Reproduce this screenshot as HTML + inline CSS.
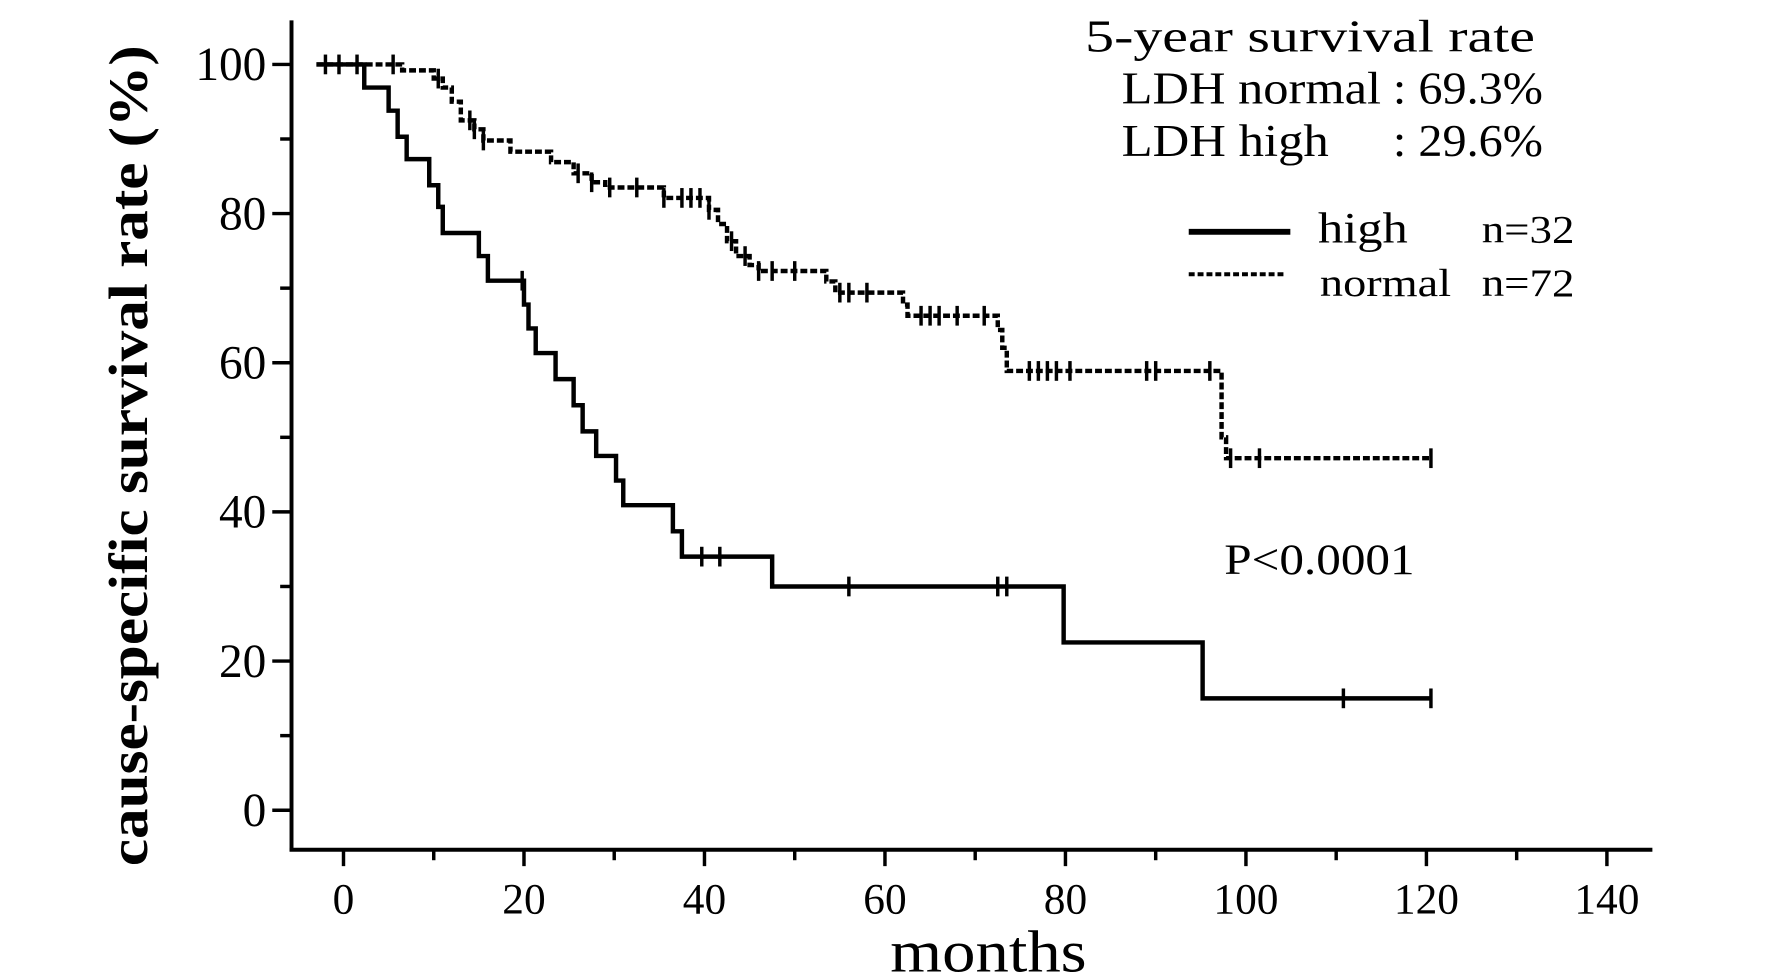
<!DOCTYPE html>
<html><head><meta charset="utf-8"><style>
html,body{margin:0;padding:0;background:#fff;}
svg{display:block;font-family:"Liberation Serif",serif;}
</style></head><body>
<svg id="chart" width="1772" height="975" viewBox="0 0 1772 975" xmlns="http://www.w3.org/2000/svg">
<g transform="scale(0.9865)">
<g id="axes"></g>
<g id="series"></g>
<text transform="translate(149,462) rotate(-90)" text-anchor="middle" font-size="56" font-weight="bold" textLength="832" lengthAdjust="spacingAndGlyphs">cause-specific survival rate (%)</text>
<text x="1002" y="985" text-anchor="middle" font-size="60" textLength="199" lengthAdjust="spacingAndGlyphs">months</text>
<g font-size="46">
<text x="1100" y="52" textLength="456" lengthAdjust="spacingAndGlyphs">5-year survival rate</text>
<text x="1137" y="105" textLength="263" lengthAdjust="spacingAndGlyphs">LDH normal</text>
<text x="1412" y="105" textLength="152" lengthAdjust="spacingAndGlyphs">: 69.3%</text>
<text x="1137" y="158" textLength="210" lengthAdjust="spacingAndGlyphs">LDH high</text>
<text x="1412" y="158" textLength="152" lengthAdjust="spacingAndGlyphs">: 29.6%</text>
</g>
<g font-size="44">
<line x1="1205" y1="235" x2="1308" y2="235" stroke="#000" stroke-width="6"/>
<line x1="1205" y1="278" x2="1304" y2="278" stroke="#000" stroke-width="4" stroke-dasharray="6 3"/>
<text x="1336" y="246" textLength="91" lengthAdjust="spacingAndGlyphs">high</text>
<text x="1502" y="246" font-size="40" textLength="94" lengthAdjust="spacingAndGlyphs">n=32</text>
<text x="1338" y="300" font-size="40" textLength="133" lengthAdjust="spacingAndGlyphs">normal</text>
<text x="1502" y="300" font-size="40" textLength="94" lengthAdjust="spacingAndGlyphs">n=72</text>
</g>
<text x="1241" y="582" font-size="44" textLength="193" lengthAdjust="spacingAndGlyphs">P&lt;0.0001</text>
</g>
</svg>
<script>
const xTicks=[0,20,40,60,80,100,120,140];
const yTicks=[0,20,40,60,80,100];
// high group: step times and survival after step
const highTimes=[-3,2.3,5,6,7,9.5,10.5,11,15,16,20,20.5,21.3,23.5,25.5,26.5,28,30.2,31,36.5,37.5,47.5,79.8,95.2,120.5];
const highSurv=[100,96.9,93.8,90.3,87.3,83.8,80.9,77.4,74.3,71.0,67.8,64.6,61.3,57.8,54.3,50.8,47.5,44.2,40.9,37.4,34.0,30.0,22.5,15.0,15.0];
const highCensor=[19.8,39.7,41.7,56,72.5,73.5,110.8,120.5];
// normal group
const normTimes=[-3,6.5,10,11,12,13,14.5,15.5,18.5,23,25.5,27.5,29,35.5,40.5,41.5,42.5,43.5,45,46,53.5,54.5,62,62.5,72.5,73,73.5,97.3,97.8,120.5];
const normSurv=[100,99.2,98.1,96.9,95.0,92.5,91.3,89.8,88.3,86.9,85.4,84.2,83.5,82.1,80.5,78.6,76.3,74.3,73.1,72.3,70.9,69.4,67.8,66.3,64.4,62.0,58.9,50.0,47.2,47.2];
const normCensor=[-2,-0.5,1.5,5.5,10.5,14,14.5,15.5,26,27.5,29.5,32.5,35.5,37.5,38.5,39.5,40.5,43,44.5,46,47.5,50,55,56,58,64,65,66,68,71,76,77,78,79,80.5,89,90,96,98.3,101.5,120.5];

const X0=348.2, XS=(1628.9-348.2)/140;
const Y0=821.3, YS=(821.3-65.3)/100;
const sx=v=>X0+v*XS, sy=v=>Y0-v*YS;
const NS="http://www.w3.org/2000/svg";
function mk(tag,attrs,parent){const e=document.createElementNS(NS,tag);for(const k in attrs)e.setAttribute(k,attrs[k]);parent.appendChild(e);return e;}
const axes=document.getElementById('axes');
const series=document.getElementById('series');

let yAxis=mk('line',{x1:295.5,y1:20.6,x2:295.5,y2:863,stroke:'#000','stroke-width':4},axes);


let xAxis=mk('line',{x1:293.5,y1:861.4,x2:1675,y2:861.4,stroke:'#000','stroke-width':4},axes);


for(let v=0;v<=100;v+=10){
  const major=v%20===0;
  let t=mk('line',{x1:major?276:284,y1:sy(v),x2:295.5,y2:sy(v),stroke:'#000','stroke-width':3.5},axes);
  
  
}
yTicks.forEach(v=>{
  let t=mk('text',{x:270,y:sy(v)+16,'text-anchor':'end','font-size':48},axes);
  t.textContent=v;
  
  
});
for(let v=0;v<=140;v+=10){
  const major=v%20===0;
  let t=mk('line',{x1:sx(v),y1:861.4,x2:sx(v),y2:major?878:872,stroke:'#000','stroke-width':3.5},axes);
  
  
}
xTicks.forEach(v=>{
  let t=mk('text',{x:sx(v),y:926,'text-anchor':'middle','font-size':44},axes);
  t.textContent=v;
  
  
});

function stepPath(times,surv){
  let d=`M${sx(times[0])},${sy(surv[0])}`;
  for(let i=1;i<times.length;i++){
    d+=` H${sx(times[i])} V${sy(surv[i])}`;
  }
  return d;
}
function survAt(times,surv,t){let s=surv[0];for(let i=0;i<times.length;i++){if(times[i]<=t)s=surv[i];}return s;}

let pn=mk('path',{d:stepPath(normTimes,normSurv),fill:'none',stroke:'#000','stroke-width':4.5,'stroke-dasharray':'7 3'},series);


let ph=mk('path',{d:stepPath(highTimes,highSurv),fill:'none',stroke:'#000','stroke-width':4.5},series);



normCensor.forEach(t=>{
  const y=sy(survAt(normTimes,normSurv,t));
  let c=mk('line',{x1:sx(t),y1:y-10,x2:sx(t),y2:y+10,stroke:'#000','stroke-width':3.5},series);
  
  
});
highCensor.forEach(t=>{
  const y=sy(survAt(highTimes,highSurv,t));
  let c=mk('line',{x1:sx(t),y1:y-10,x2:sx(t),y2:y+10,stroke:'#000','stroke-width':3.5},series);
  
  
});
</script>
</body></html>
